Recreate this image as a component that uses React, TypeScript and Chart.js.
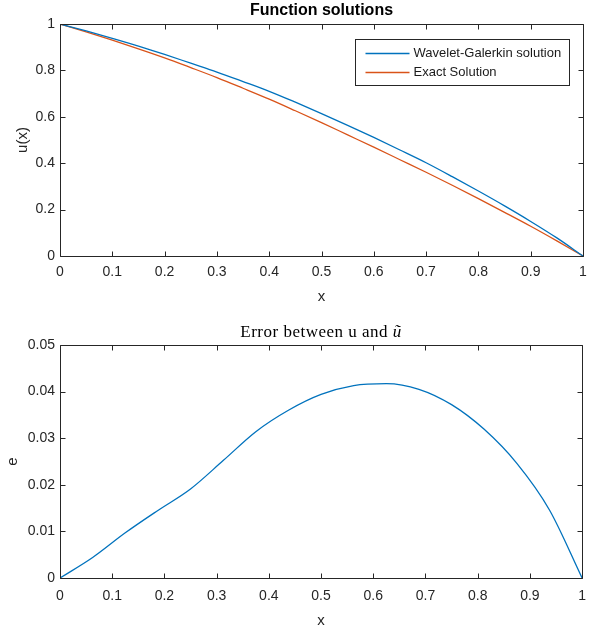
import React, { useEffect, useRef } from 'react';
import { Chart, registerables } from 'chart.js';

Chart.register(...registerables);

// ---------- data ----------
const xValues = [0, 0.05, 0.1, 0.15, 0.2, 0.25, 0.3, 0.35, 0.4, 0.45, 0.5, 0.55, 0.6, 0.65, 0.7, 0.75, 0.8, 0.85, 0.9, 0.95, 1];
const waveletGalerkin = [1.0, 0.97, 0.938, 0.905, 0.869, 0.831, 0.793, 0.752, 0.71, 0.663, 0.614, 0.563, 0.511, 0.457, 0.402, 0.342, 0.28, 0.216, 0.149, 0.078, 0];
const exactSolution = [1.0, 0.966, 0.93, 0.893, 0.854, 0.812, 0.769, 0.723, 0.676, 0.626, 0.575, 0.522, 0.469, 0.415, 0.361, 0.305, 0.247, 0.188, 0.128, 0.065, 0];

const errorX = [0, 0.0625, 0.125, 0.1875, 0.25, 0.3125, 0.375, 0.4375, 0.5, 0.5625, 0.625, 0.6875, 0.75, 0.8125, 0.875, 0.9375, 1];
const errorValues = [0, 0.0044, 0.0097, 0.0145, 0.0191, 0.0252, 0.0314, 0.036, 0.0394, 0.0413, 0.0417, 0.0405, 0.0372, 0.0319, 0.0246, 0.0146, 0];

const xTickValues = [0, 0.1, 0.2, 0.3, 0.4, 0.5, 0.6, 0.7, 0.8, 0.9, 1];
const xTickLabels = ['0', '0.1', '0.2', '0.3', '0.4', '0.5', '0.6', '0.7', '0.8', '0.9', '1'];
const uTickValues = [0, 0.2, 0.4, 0.6, 0.8, 1];
const uTickLabels = ['0', '0.2', '0.4', '0.6', '0.8', '1'];
const eTickValues = [0, 0.01, 0.02, 0.03, 0.04, 0.05];
const eTickLabels = ['0', '0.01', '0.02', '0.03', '0.04', '0.05'];

const seriesNames = ['Wavelet-Galerkin solution', 'Exact Solution'];
const topTitle = 'Function solutions';
const bottomTitleText = 'Error between u and ';
const bottomTitleSymbol = '\u0169';
const xAxisTitle = 'x';
const uAxisTitle = 'u(x)';
const eAxisTitle = 'e';

// ---------- styles ----------
const SANS = '"Liberation Sans", Arial, Helvetica, sans-serif';
const SERIF = '"Liberation Serif", "Times New Roman", serif';
const AXIS = '#262626';
const BLUE = '#0072BD';
const ORANGE = '#D95319';

const W = 596;
const TOP_H = 316;
const BOTTOM_H = 317;

function toPoints(xs: number[], ys: number[]) {
  return xs.map((x, i) => ({ x, y: ys[i] }));
}

function framePlugin() {
  return {
    id: 'matlabFrame',
    afterDatasetsDraw(chart: any) {
      const { ctx, chartArea: a, scales } = chart;
      const L = Math.round(a.left) + 0.5;
      const R = Math.round(a.right) + 0.5;
      const T = Math.round(a.top) + 0.5;
      const B = Math.round(a.bottom) + 0.5;
      ctx.save();
      ctx.strokeStyle = AXIS;
      ctx.lineWidth = 1;
      ctx.beginPath();
      ctx.rect(L, T, R - L, B - T);
      const tl = 5;
      scales.x.ticks.forEach((t: any) => {
        const px = Math.round(scales.x.getPixelForValue(t.value)) + 0.5;
        ctx.moveTo(px, B);
        ctx.lineTo(px, B - tl);
        ctx.moveTo(px, T);
        ctx.lineTo(px, T + tl);
      });
      scales.y.ticks.forEach((t: any) => {
        const py = Math.round(scales.y.getPixelForValue(t.value)) + 0.5;
        ctx.moveTo(L, py);
        ctx.lineTo(L + tl, py);
        ctx.moveTo(R, py);
        ctx.lineTo(R - tl, py);
      });
      ctx.stroke();
      ctx.restore();
    },
  };
}

function titlePlugin(parts: { text: string; font: string }[], baseline: number, spacing: string) {
  return {
    id: 'panelTitle',
    afterDraw(chart: any) {
      const { ctx, chartArea: a } = chart;
      ctx.save();
      ctx.fillStyle = '#000000';
      ctx.textBaseline = 'alphabetic';
      ctx.textAlign = 'left';
      try {
        (ctx as any).letterSpacing = spacing;
      } catch (e) {
        /* ignore */
      }
      const widths = parts.map((p) => {
        ctx.font = p.font;
        return ctx.measureText(p.text).width;
      });
      const total = widths.reduce((s, w) => s + w, 0);
      let x = (a.left + a.right) / 2 - total / 2;
      parts.forEach((p, i) => {
        ctx.font = p.font;
        ctx.fillText(p.text, x, baseline);
        x += widths[i];
      });
      ctx.restore();
    },
  };
}

function legendPlugin() {
  return {
    id: 'matlabLegend',
    afterDraw(chart: any) {
      const { ctx, chartArea: a } = chart;
      const boxW = 214;
      const boxH = 46;
      const right = Math.round(a.right) - 14 + 0.5;
      const top = Math.round(a.top) + 15 + 0.5;
      const left = right - boxW;
      ctx.save();
      ctx.fillStyle = '#ffffff';
      ctx.fillRect(left, top, boxW, boxH);
      ctx.strokeStyle = AXIS;
      ctx.lineWidth = 1;
      ctx.strokeRect(left, top, boxW, boxH);
      ctx.font = '13px ' + SANS;
      ctx.textBaseline = 'middle';
      ctx.textAlign = 'left';
      chart.data.datasets.forEach((ds: any, i: number) => {
        const y = top + 14 + i * 19;
        ctx.strokeStyle = ds.borderColor;
        ctx.lineWidth = 1.3;
        ctx.beginPath();
        ctx.moveTo(left + 10, y);
        ctx.lineTo(left + 54, y);
        ctx.stroke();
        ctx.fillStyle = '#1a1a1a';
        ctx.fillText(ds.label, left + 58, y);
      });
      ctx.restore();
    },
  };
}

function xScale(xHeight: number, labelPad: number, titlePadBottom: number) {
  return {
    type: 'linear',
    position: 'bottom',
    min: 0,
    max: 1,
    grid: { display: false, drawTicks: false },
    border: { display: false },
    afterBuildTicks: (s: any) => {
      s.ticks = xTickValues.map((v) => ({ value: v }));
    },
    afterFit: (s: any) => {
      s.height = xHeight;
    },
    ticks: {
      padding: labelPad,
      color: AXIS,
      autoSkip: false,
      maxRotation: 0,
      font: { family: SANS, size: 14 },
      callback: (_v: any, i: number) => xTickLabels[i],
    },
    title: {
      display: true,
      text: xAxisTitle,
      color: AXIS,
      font: { family: SANS, size: 15 },
      padding: { top: 0, bottom: titlePadBottom },
    },
  };
}

function yScale(max: number, values: number[], labels: string[], title: string, titlePadTop: number) {
  return {
    type: 'linear',
    position: 'left',
    min: 0,
    max,
    grid: { display: false, drawTicks: false },
    border: { display: false },
    afterBuildTicks: (s: any) => {
      s.ticks = values.map((v) => ({ value: v }));
    },
    afterFit: (s: any) => {
      s.width = 60;
    },
    ticks: {
      padding: 5,
      color: AXIS,
      autoSkip: false,
      font: { family: SANS, size: 14 },
      callback: (_v: any, i: number) => labels[i],
    },
    title: {
      display: true,
      text: title,
      color: AXIS,
      font: { family: SANS, size: 15 },
      padding: { top: titlePadTop, bottom: 0 },
    },
  };
}

const lineStyle = { borderWidth: 1.3, pointRadius: 0, fill: false, cubicInterpolationMode: 'monotone' };

function topConfig(): any {
  return {
    type: 'line',
    data: {
      datasets: [
        { label: seriesNames[0], data: toPoints(xValues, waveletGalerkin), borderColor: BLUE, ...lineStyle },
        { label: seriesNames[1], data: toPoints(xValues, exactSolution), borderColor: ORANGE, ...lineStyle },
      ],
    },
    options: {
      responsive: false,
      animation: false,
      devicePixelRatio: 1,
      events: [],
      layout: { padding: { left: 0, right: 13, top: 24, bottom: 0 } },
      plugins: { legend: { display: false }, title: { display: false }, tooltip: { enabled: false } },
      scales: {
        x: xScale(TOP_H - 256, 8, 10.4),
        y: yScale(1, uTickValues, uTickLabels, uAxisTitle, 14),
      },
    },
    plugins: [framePlugin(), titlePlugin([{ text: topTitle, font: 'bold 16px ' + SANS }], 15, '0px'), legendPlugin()],
  };
}

function bottomConfig(): any {
  return {
    type: 'line',
    data: {
      datasets: [{ label: 'e', data: toPoints(errorX, errorValues), borderColor: BLUE, ...lineStyle }],
    },
    options: {
      responsive: false,
      animation: false,
      devicePixelRatio: 1,
      events: [],
      layout: { padding: { left: 0, right: 13, top: 29, bottom: 0 } },
      plugins: { legend: { display: false }, title: { display: false }, tooltip: { enabled: false } },
      scales: {
        x: xScale(BOTTOM_H - 262, 10, 3.4),
        y: yScale(0.05, eTickValues, eTickLabels, eAxisTitle, 4),
      },
    },
    plugins: [
      framePlugin(),
      titlePlugin(
        [
          { text: bottomTitleText, font: '17px ' + SERIF },
          { text: bottomTitleSymbol, font: 'italic 17px ' + SERIF },
        ],
        21,
        '0.5px'
      ),
    ],
  };
}

function Panel({ makeConfig, top, height }: { makeConfig: () => any; top: number; height: number }) {
  const ref = useRef<HTMLCanvasElement | null>(null);
  useEffect(() => {
    if (!ref.current) return;
    const chart = new Chart(ref.current, makeConfig());
    return () => chart.destroy();
  }, []);
  return (
    <canvas
      ref={ref}
      width={W}
      height={height}
      style={{ position: 'absolute', left: 0, top, width: W, height, display: 'block' }}
    />
  );
}

export default function App() {
  return (
    <div style={{ position: 'absolute', left: 0, top: 0, width: W, height: TOP_H + BOTTOM_H, background: '#ffffff' }}>
      <Panel makeConfig={topConfig} top={0} height={TOP_H} />
      <Panel makeConfig={bottomConfig} top={TOP_H} height={BOTTOM_H} />
    </div>
  );
}
